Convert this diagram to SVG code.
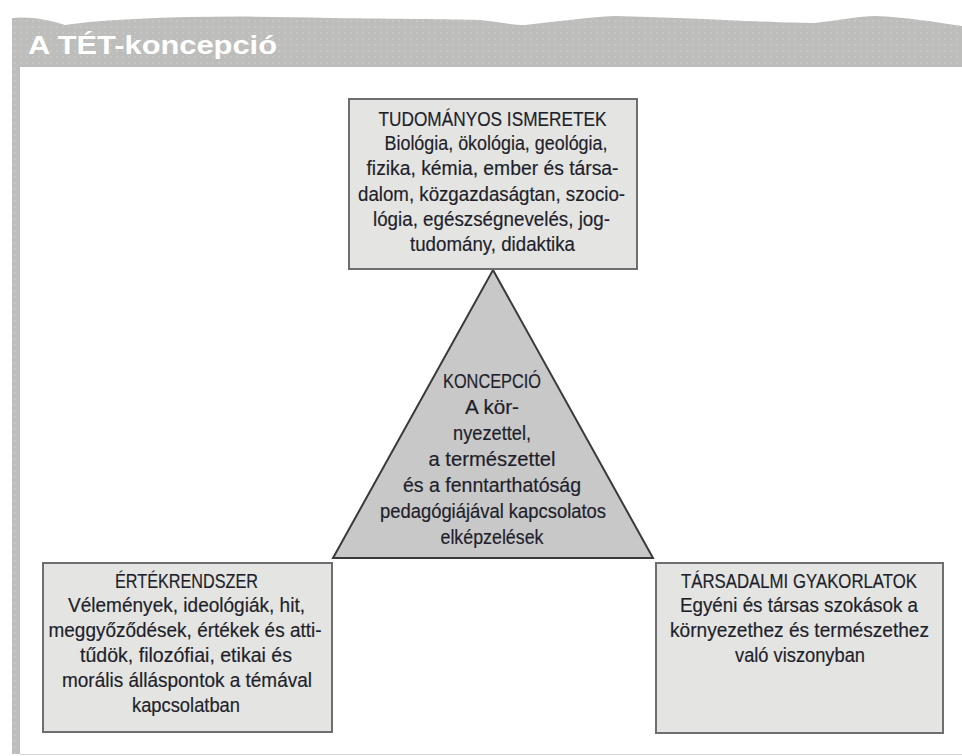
<svg xmlns="http://www.w3.org/2000/svg" width="962" height="756" viewBox="0 0 962 756">
  <defs>
    <pattern id="dots" x="0" y="0" width="6" height="6" patternUnits="userSpaceOnUse">
      <rect width="6" height="6" fill="#bdbdbb"/>
      <circle cx="3" cy="3" r="0.7" fill="#d8d8d6"/>
    </pattern>
    <style>
      .box { fill: #e4e5e3; stroke: #6e6e6e; stroke-width: 2; }
      .tri { fill: #c8c8c8; stroke: #3a3a3a; stroke-width: 2; stroke-linejoin: miter; }
      .t { font-family: "Liberation Sans Narrow", "Liberation Sans", "DejaVu Sans", sans-serif; font-size: 20.5px; fill: #1f1f2b; text-anchor: middle; stroke: #1f1f2b; stroke-width: 0.2; }
      .sm { font-size: 19.5px; }
      .title { font-family: "Liberation Sans", "DejaVu Sans", sans-serif; font-weight: bold; font-size: 25px; fill: #ffffff; }
    </style>
  </defs>
  <rect x="0" y="0" width="962" height="756" fill="#ffffff"/>
  <g id="frame">
    <path d="M12,18 C30,16 50,20 65,25 C85,22 110,20 135,19 C200,16 260,16 330,18 C400,19 450,19 480,20 C500,22 512,25 525,25 C560,21 590,17 615,16 C660,17 700,19 725,20 C770,22 800,23 815,23 C840,20 860,16 875,16 C905,17 935,22 962,26 L962,67 L20,67 L20,754 L12,754 Z" fill="url(#dots)"/>
    <line x1="20" y1="754.5" x2="962" y2="754.5" stroke="#d4d4d4" stroke-width="1"/>
    <text class="title" x="28" y="54" textLength="249" lengthAdjust="spacingAndGlyphs">A TÉT-koncepció</text>
  </g>
  <g id="connectors"></g>
  <g id="koncepcio">
    <polygon class="tri" points="493,270 653,558 333,558"/>
    <text class="t" x="492" y="388" textLength="98" lengthAdjust="spacingAndGlyphs">KONCEPCIÓ</text>
    <text class="t" x="492" y="414" textLength="54" lengthAdjust="spacingAndGlyphs">A kör-</text>
    <text class="t" x="492" y="440" textLength="78" lengthAdjust="spacingAndGlyphs">nyezettel,</text>
    <text class="t" x="492" y="466" textLength="127" lengthAdjust="spacingAndGlyphs">a természettel</text>
    <text class="t" x="492" y="492" textLength="178" lengthAdjust="spacingAndGlyphs">és a fenntarthatóság</text>
    <text class="t" x="493" y="518" textLength="226" lengthAdjust="spacingAndGlyphs">pedagógiájával kapcsolatos</text>
    <text class="t" x="492" y="544" textLength="103" lengthAdjust="spacingAndGlyphs">elképzelések</text>
  </g>
  <g id="tudomanyos">
    <rect class="box" x="349" y="99" width="288" height="170"/>
    <text class="t" x="492.5" y="126" textLength="228" lengthAdjust="spacingAndGlyphs">TUDOMÁNYOS ISMERETEK</text>
    <text class="t" x="496" y="150" textLength="223" lengthAdjust="spacingAndGlyphs">Biológia, ökológia, geológia,</text>
    <text class="t" x="492.5" y="175" textLength="252" lengthAdjust="spacingAndGlyphs">fizika, kémia, ember és társa-</text>
    <text class="t" x="491.5" y="201" textLength="267" lengthAdjust="spacingAndGlyphs">dalom, közgazdaságtan, szocio-</text>
    <text class="t" x="491.5" y="226" textLength="237" lengthAdjust="spacingAndGlyphs">lógia, egészségnevelés, jog-</text>
    <text class="t" x="492.5" y="251" textLength="165" lengthAdjust="spacingAndGlyphs">tudomány, didaktika</text>
  </g>
  <g id="ertekrendszer">
    <rect class="box" x="43" y="563" width="289" height="169"/>
    <text class="t" x="186.5" y="588" textLength="143" lengthAdjust="spacingAndGlyphs">ÉRTÉKRENDSZER</text>
    <text class="t" x="186.5" y="612" textLength="237" lengthAdjust="spacingAndGlyphs">Vélemények, ideológiák, hit,</text>
    <text class="t" x="185" y="637" textLength="273" lengthAdjust="spacingAndGlyphs">meggyőződések, értékek és atti-</text>
    <text class="t" x="186" y="662" textLength="212" lengthAdjust="spacingAndGlyphs">tűdök, filozófiai, etikai és</text>
    <text class="t" x="187" y="687" textLength="250" lengthAdjust="spacingAndGlyphs">morális álláspontok a témával</text>
    <text class="t" x="186" y="712" textLength="108" lengthAdjust="spacingAndGlyphs">kapcsolatban</text>
  </g>
  <g id="tarsadalmi">
    <rect class="box" x="656" y="563" width="287" height="170"/>
    <text class="t sm" x="799" y="588" textLength="236" lengthAdjust="spacingAndGlyphs">TÁRSADALMI GYAKORLATOK</text>
    <text class="t" x="799" y="612" textLength="238" lengthAdjust="spacingAndGlyphs">Egyéni és társas szokások a</text>
    <text class="t" x="799.5" y="637" textLength="259" lengthAdjust="spacingAndGlyphs">környezethez és természethez</text>
    <text class="t" x="800" y="662" textLength="130" lengthAdjust="spacingAndGlyphs">való viszonyban</text>
  </g>
</svg>
